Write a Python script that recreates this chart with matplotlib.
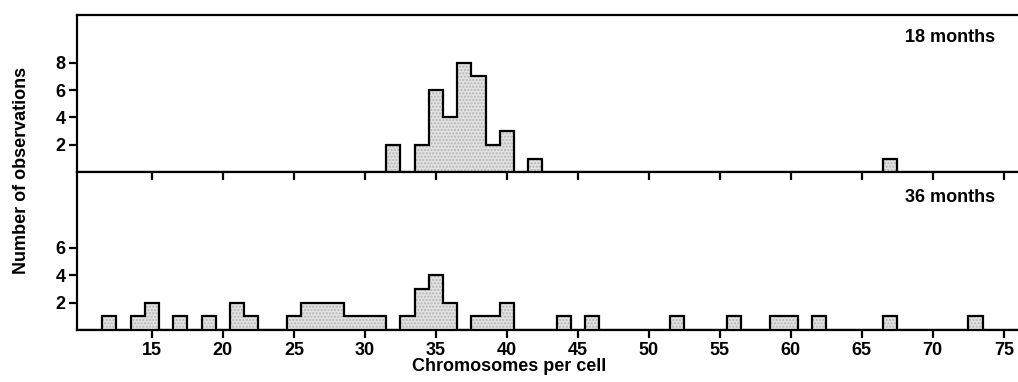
import numpy as np
import matplotlib
matplotlib.use("Agg")
import matplotlib.pyplot as plt

# chromosome counts per cell and number of cells observed
chrom_18 = [32, 34, 35, 36, 37, 38, 39, 40, 42, 67]
obs_18 = [2, 2, 6, 4, 8, 7, 2, 3, 1, 1]

chrom_36 = [12, 14, 15, 17, 19, 21, 22, 25, 26, 27, 28, 29, 30, 31, 33, 34,
            35, 36, 38, 39, 40, 44, 46, 52, 56, 59, 60, 62, 67, 73]
obs_36 = [1, 1, 2, 1, 1, 2, 1, 1, 2, 2, 2, 1, 1, 1, 1, 3,
          4, 2, 1, 1, 2, 1, 1, 1, 1, 1, 1, 1, 1, 1]

x_ticks = [15, 20, 25, 30, 35, 40, 45, 50, 55, 60, 65, 70, 75]
panel_labels = ["18 months", "36 months"]

plt.rcParams['font.family'] = ['Liberation Sans', 'DejaVu Sans']
plt.rcParams['font.weight'] = 'bold'

bins = np.arange(9, 78)
edges = np.append(bins - 0.5, bins[-1] + 0.5)


def to_hist(chrom, obs):
    h = np.zeros(len(bins))
    for c, n in zip(chrom, obs):
        h[c - bins[0]] = n
    return h


fig = plt.figure(figsize=(10.18, 3.82), dpi=100)
ax1 = fig.add_axes([0.0753, 0.549, 0.9247, 0.4126])
ax2 = fig.add_axes([0.0753, 0.1361, 0.9247, 0.4128])
ax1.set_zorder(2)
ax1.patch.set_visible(False)
ax2.patch.set_visible(False)

lw = 1.6
fs = 13
for ax, chrom, obs, yt, lab, ly in [(ax1, chrom_18, obs_18, [2, 4, 6, 8], panel_labels[0], 0.852),
                                    (ax2, chrom_36, obs_36, [2, 4, 6], panel_labels[1], 0.843)]:
    h = to_hist(chrom, obs)
    ax.stairs(h, edges, fill=True, color='#e2e2e2', hatch='.....', edgecolor='#b4b4b4', linewidth=0)
    ax.stairs(h, edges, fill=False, color='black', linewidth=lw, baseline=0)
    ax.set_xlim(9.7, 76.0)
    ax.set_ylim(0, 11.5)
    ax.set_yticks(yt)
    ax.set_xticks(x_ticks)
    ax.spines['right'].set_visible(False)
    for s in ['left', 'bottom', 'top']:
        ax.spines[s].set_linewidth(lw)
    ax.tick_params(axis='both', direction='out', length=6, width=lw, labelsize=fs, pad=2)
    ax.text(0.9756, ly, lab, transform=ax.transAxes, ha='right', va='center',
            fontsize=fs, fontweight='bold')

ax1.tick_params(axis='x', labelbottom=False)
ax2.tick_params(axis='x', pad=2.5)
ax2.spines['top'].set_visible(False)
ax2.set_xlabel("Chromosomes per cell", fontsize=fs, fontweight='bold')
ax2.xaxis.set_label_coords(0.459, -0.178)
fig.text(0.0216, 0.555, "Number of observations", rotation=90, ha='center', va='center',
         fontsize=fs, fontweight='bold')

fig.savefig("out.png", dpi=100)
